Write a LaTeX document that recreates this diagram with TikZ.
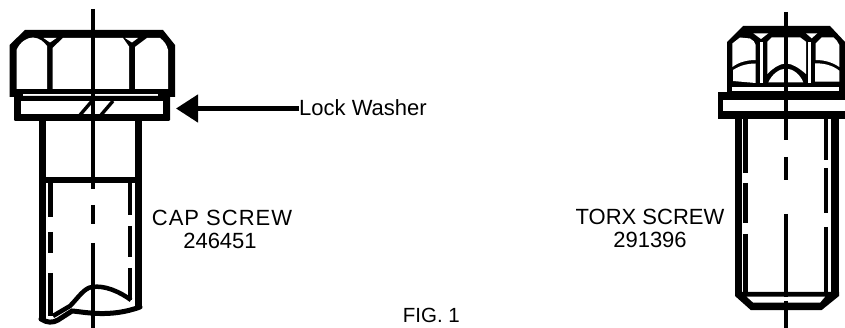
\documentclass[tikz,border=0pt]{standalone}
\usepackage{fontspec}
\setmainfont{Liberation Sans}
\usetikzlibrary{arrows.meta}
\tikzset{
 sil/.style={fill=black,draw=none},
 face/.style={fill=white,draw=none},
 lbl/.style={inner sep=0pt,font=\fontsize{22}{23}\selectfont,anchor=base},
 shank/.style={line width=6.5pt},
 thread/.style={line width=5pt},
 threadr/.style={line width=4pt},
 axis/.style={line width=4pt},
}
\begin{document}
\begin{tikzpicture}[x=1pt,y=-1pt]
\useasboundingbox (0,0) rectangle (845,328);
% ---- cap screw
\fill[sil] (9.5,45) -- (25,30) -- (163,30) -- (175,45) -- (175,97) -- (9.5,97) -- cycle;
\fill[face] (16.5,89) -- (16.5,50) .. controls (20,42) and (27,37.5) .. (33,37.5) .. controls (40,38) and (44,42) .. (47,46) -- (47,89) -- cycle;
\fill[face] (43.5,38) -- (56.5,38) -- (50,42.5) -- cycle;
\fill[face] (52.5,89) -- (52.5,48) -- (63,38) -- (123,38) -- (129,46.5) -- (129,89) -- cycle;
\fill[face] (125,38) -- (138,38) -- (132,42.5) -- cycle;
\fill[face] (135,89) -- (135,47) -- (147,38) -- (160,38) .. controls (164,41) and (167,45) .. (168,50) -- (168,89) -- cycle;
\fill[face] (22.5,94.5) rectangle (158,96);
\fill[sil,rounded corners=1pt] (14,96) rectangle (170,121);
\fill[face] (21,101) rectangle (163,114);
\draw[line width=3.4pt] (80,115) -- (92,101) (101,115) -- (113,101);
\draw[shank] (42.4,119) -- (42.4,321) (138.4,119) -- (138.4,308);
\draw[shank] (40,180) -- (141,180);
\draw[thread] (50.5,180) -- (50.5,217) (50.5,232) -- (50.5,253) (50.5,273) -- (50.5,316);
\draw[threadr] (130,180) -- (130,215) (130,226) -- (130,257) (130,268) -- (130,300);
\draw[line width=5pt,line cap=round] (41,319) .. controls (47,323) and (53,323) .. (58,320) -- (72,311) .. controls (85,312) and (110,318) .. (140,307);
\draw[line width=4.5pt] (53,316) -- (70,306) .. controls (78,298) and (84,288) .. (92,287) .. controls (105,285) and (120,292) .. (131,300);
\draw[axis] (93,9) -- (93,189) (93,205) -- (93,224) (93,243) -- (93,328);
% ---- torx screw
\fill[sil] (727,42) -- (743,26) -- (830,26) -- (845,42) -- (845,93) -- (727,93) -- cycle;
\fill[face] (732.3,67) -- (732.3,43.5) -- (740,37.5) -- (750,38.5) .. controls (753,40) and (755,42) .. (755.7,45) -- (755.7,60) .. controls (747,60) and (739,62) .. (732.3,67) -- cycle;
\fill[face] (733,81) -- (733,70) .. controls (741,65) and (748,63.5) .. (755.7,63.5) -- (755.7,83) -- cycle;
\fill[face] (753.3,33.3) -- (768.3,33.3) -- (761,39) -- cycle;
\fill[face] (760,42) rectangle (762.5,83);
\fill[face] (767.3,74) -- (767.3,41.7) -- (771.7,37.3) -- (800,37.3) -- (806,41.7) -- (806,74) .. controls (799,68) and (793,64) .. (786,63.3) .. controls (779,64) and (773,68) .. (767.3,74) -- cycle;
\fill[face] (768.3,82.5) .. controls (772,74) and (779,69) .. (786,68.5) .. controls (793,69) and (800,74) .. (803.3,82.5) -- cycle;
\fill[face] (806,33.3) -- (817.3,33.3) -- (811.7,38.3) -- cycle;
\fill[face] (808.3,42) rectangle (811,83);
\fill[face] (815.7,60) -- (815.7,43.3) -- (821.7,37.3) -- (833.3,37.3) .. controls (836,39) and (838,42) .. (839.3,45) -- (839.3,67) .. controls (832,62) and (824,60) .. (815.7,60) -- cycle;
\fill[face] (815,81.7) -- (815,63.3) .. controls (824,63.3) and (832,65) .. (839.3,70.7) -- (839.3,81.7) -- cycle;
\fill[face] (732.3,87.3) rectangle (839,91);
\fill[sil] (718,92) rectangle (845,119);
\fill[face] (723,100) rectangle (845,111);
\draw[shank] (738.3,119) -- (738.3,296);
\draw[line width=8pt] (835,119) -- (835,296);
\draw[thread] (745.8,119) -- (745.8,173) (745.8,183) -- (745.8,223) (745.8,234) -- (745.8,296);
\draw[threadr] (825.5,119) -- (825.5,160) (825.5,168) -- (825.5,213) (825.5,227) -- (825.5,296);
\fill[sil] (735,292) -- (839,292) -- (839,296) -- (821.7,310) -- (750.7,310) -- (735,296) -- cycle;
\fill[face] (746.7,296.7) -- (825,296.7) -- (820,302.7) -- (753.3,302.7) -- cycle;
\draw[axis] (786,12) -- (786,140) (786,157) -- (786,180) (786,214) -- (786,297) (786,301) -- (786,328);
% ---- labels
\node[lbl] (cap) at (222,226) {\addfontfeature{LetterSpace=4.5}CAP SCREW};
\node[lbl] (capn) at (220,249) {246451};
\node[lbl] (torx) at (650,225) {TORX SCREW};
\node[lbl] (torxn) at (650,248) {291396};
\node[lbl,anchor=base west] (lock) at (299,115.5) {Lock Washer};
\node[lbl,anchor=base east,font=\fontsize{20.5}{22}\selectfont] (fig) at (460,322.7) {FIG. 1};
\coordinate (tip) at (176,108.5);
\draw[line width=4.6pt,-{Triangle[length=22pt,width=27pt]}] (lock.west |- tip) -- (tip);
\end{tikzpicture}
\end{document}
